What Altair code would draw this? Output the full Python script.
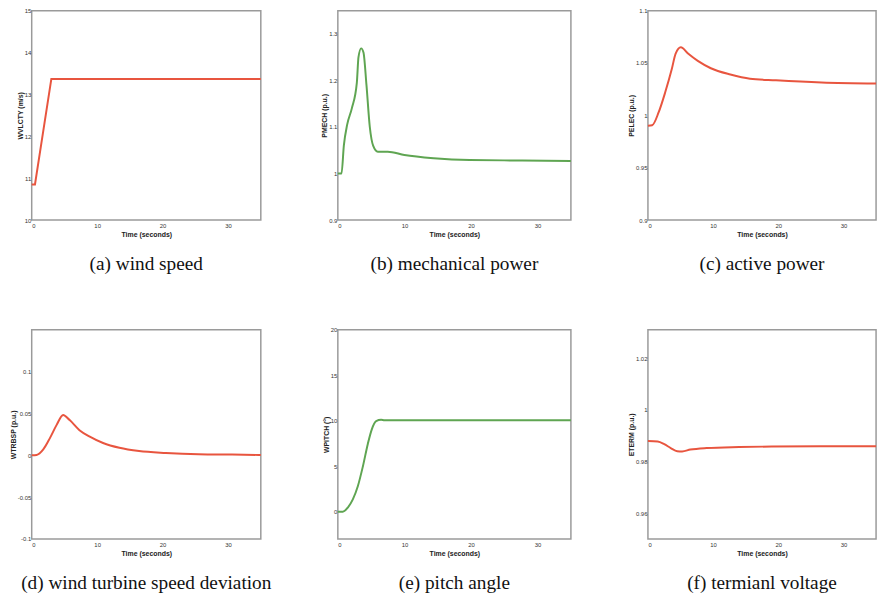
import altair as alt
import pandas as pd

# (a) wind speed
t_a = [0, 0.5, 3.0, 35]
v_a = [10.85, 10.85, 13.37, 13.37]

# (b) mechanical power
t_b = [0, 0.55, 0.9, 1.4, 2.1, 2.85, 3.1, 3.5, 3.85, 4.3, 4.8, 5.3, 6.0, 7.5, 10, 14.4, 19.8, 27.7, 35]
v_b = [1.0, 1.0, 1.06, 1.105, 1.14, 1.195, 1.25, 1.269, 1.26, 1.19, 1.1, 1.06, 1.047, 1.047, 1.04, 1.033, 1.029, 1.028, 1.027]

# (c) active power
t_c = [0, 0.65, 1.65, 2.65, 3.65, 4.25, 5.05, 6.15, 7.65, 9.65, 12.65, 15.65, 19.65, 26.65, 35]
v_c = [0.99, 0.9905, 1.003, 1.022, 1.044, 1.059, 1.065, 1.059, 1.052, 1.045, 1.039, 1.035, 1.0335, 1.0315, 1.0305]

# (d) wind turbine speed deviation
t_d = [0, 0.75, 1.77, 2.78, 3.79, 4.8, 5.8, 7.3, 8.8, 10.9, 13.4, 16.4, 20.5, 25.5, 30.6, 35]
v_d = [0, 0.0004, 0.007, 0.0205, 0.036, 0.0482, 0.042, 0.030, 0.0225, 0.0147, 0.0089, 0.005, 0.0027, 0.0012, 0.0008, 0.0004]

# (e) pitch angle
t_e = [0, 0.75, 1.5, 2.25, 3.0, 3.75, 4.5, 5.1, 5.75, 6.5, 7.0, 35]
v_e = [0, 0, 0.46, 1.36, 2.8, 4.95, 7.45, 9.05, 9.95, 10.1, 10.05, 10.05]

# (f) terminal voltage
t_f = [0, 1.5, 2.5, 3.5, 4.5, 5.25, 6.5, 9, 14, 19, 26.5, 35]
v_f = [0.9879, 0.9877, 0.9867, 0.9852, 0.984, 0.9839, 0.9846, 0.9852, 0.9856, 0.9858, 0.9859, 0.9859]

x_ticks = [0, 10, 20, 30]

RED = "#e8553f"
GREEN = "#5fa552"

panels = [
    (t_a, v_a, "WVLCTY (m/s)", [10, 15], [10, 11, 12, 13, 14, 15], RED, "linear", "(a) wind speed"),
    (t_b, v_b, "PMECH (p.u.)", [0.9, 1.35], [0.9, 1.0, 1.1, 1.2, 1.3], GREEN, "monotone", "(b) mechanical power"),
    (t_c, v_c, "PELEC (p.u.)", [0.9, 1.1], [0.9, 0.95, 1.0, 1.05, 1.1], RED, "monotone", "(c) active power"),
    (t_d, v_d, "WTRBSP (p.u.)", [-0.1, 0.15], [-0.1, -0.05, 0, 0.05, 0.1], RED, "monotone", "(d) wind turbine speed deviation"),
    (t_e, v_e, "WPITCH (°)", [-3, 20], [0, 5, 10, 15, 20], GREEN, "monotone", "(e) pitch angle"),
    (t_f, v_f, "ETERM (p.u.)", [0.95, 1.031], [0.96, 0.98, 1.0, 1.02], RED, "monotone", "(f) termianl voltage"),
]

widths = [232, 236, 231, 232, 236, 231]

charts = []
for i, (t, v, ytitle, ydom, yticks, color, interp, caption) in enumerate(panels):
    df = pd.DataFrame({"t": t, "v": v})
    ch = alt.Chart(df, title=alt.TitleParams(caption)).mark_line(
        color=color, strokeWidth=2, interpolate=interp
    ).encode(
        x=alt.X("t:Q", scale=alt.Scale(domain=[0, 35], nice=False, zero=False),
                axis=alt.Axis(values=x_ticks, title="Time (seconds)", labelExpr="datum.value + ''")),
        y=alt.Y("v:Q", scale=alt.Scale(domain=ydom, nice=False, zero=False),
                axis=alt.Axis(values=yticks, title=ytitle, labelExpr="datum.value + ''")),
    ).properties(width=widths[i], height=212)
    charts.append(ch)

chart = alt.concat(
    *charts, columns=3, spacing={"row": 111, "column": 78}, bounds="flush"
).properties(
    padding={"left": 0, "top": -5, "right": 0, "bottom": 0}
).configure_view(
    stroke="#9a9a9a", strokeWidth=1.5
).configure_axis(
    domain=False, grid=False, ticks=False,
    labelFont="Liberation Sans", labelFontSize=6, labelColor="#333333",
    titleFont="Liberation Sans", titleFontSize=7, titleFontWeight="bold", titleColor="#222222",
).configure_axisX(
    labelPadding=3, titlePadding=2
).configure_axisY(
    labelPadding=1, titlePadding=1
).configure_title(
    font="Liberation Serif", fontSize=19.5, fontWeight="normal", color="#111111",
    orient="bottom", anchor="middle", frame="group", offset=18
)

chart.save("out.html", embed_options={"renderer": "svg", "actions": False})
